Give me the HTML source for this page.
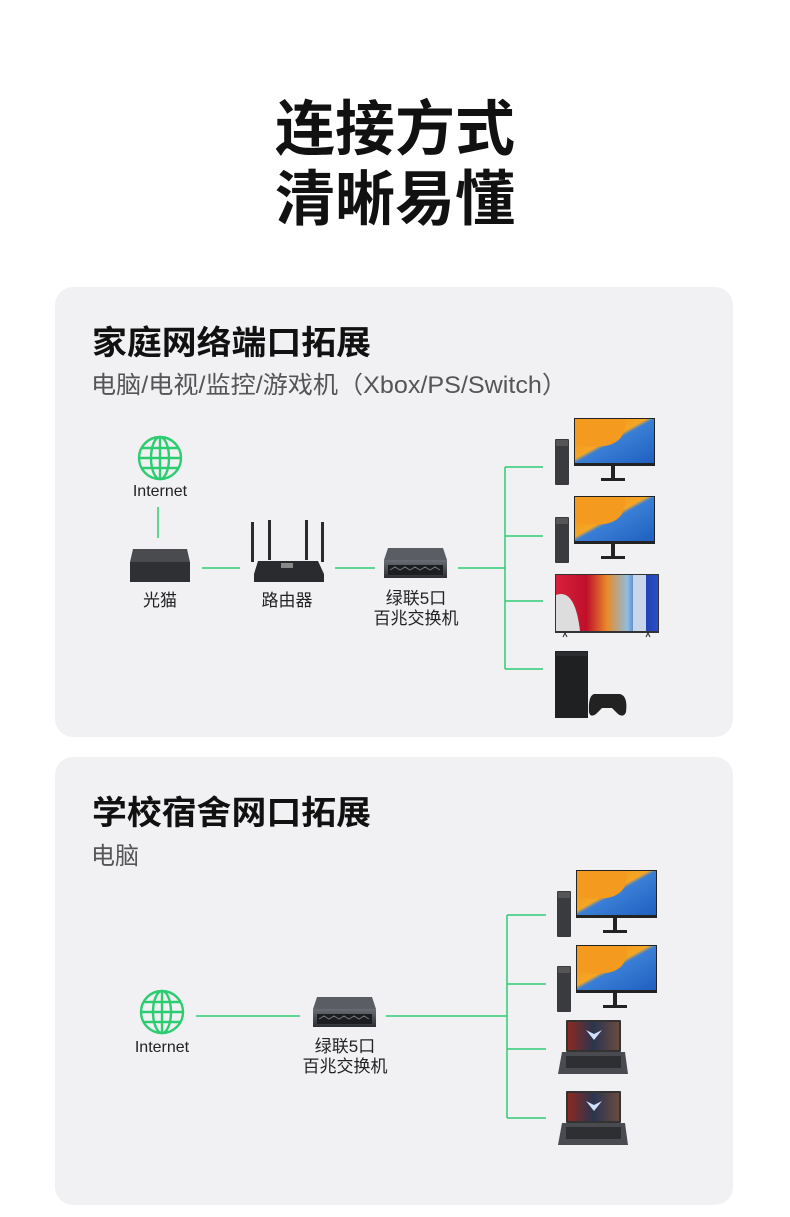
<!DOCTYPE html>
<html><head><meta charset="utf-8"><style>
html,body{margin:0;padding:0;background:#fff;}
svg{display:block;}
text{font-family:"Liberation Sans","Noto Sans CJK SC",sans-serif;}
</style></head><body>
<svg width="790" height="1217" viewBox="0 0 790 1217" xmlns="http://www.w3.org/2000/svg">
<defs>
<linearGradient id="scr" x1="0" y1="0" x2="1" y2="1">
<stop offset="0" stop-color="#f08a1a"/><stop offset="0.45" stop-color="#f5a623"/><stop offset="0.5" stop-color="#3a7fd6"/><stop offset="1" stop-color="#1f5fc0"/></linearGradient>
<linearGradient id="tv" x1="0" y1="0" x2="1" y2="0">
<stop offset="0" stop-color="#d8203a"/><stop offset="0.3" stop-color="#c0102a"/><stop offset="0.5" stop-color="#e88a2a"/><stop offset="0.7" stop-color="#8fbde0"/><stop offset="0.85" stop-color="#1d3fb0"/><stop offset="1" stop-color="#2a4fc8"/></linearGradient>
<linearGradient id="lap" x1="0" y1="0" x2="1" y2="0">
<stop offset="0" stop-color="#8a2a20"/><stop offset="0.5" stop-color="#2a3550"/><stop offset="1" stop-color="#6a4a40"/></linearGradient>
<linearGradient id="sw" x1="0" y1="0" x2="0" y2="1">
<stop offset="0" stop-color="#6a6d74"/><stop offset="1" stop-color="#2c2e33"/></linearGradient>
<g id="globe" fill="none" stroke="#2ecc71" stroke-width="2.4">
<circle cx="0" cy="0" r="21"/><ellipse cx="0" cy="0" rx="9" ry="21"/><line x1="0" y1="-21" x2="0" y2="21"/><line x1="-21" y1="0" x2="21" y2="0"/><path d="M-18 -10 H18 M-18 10 H18"/></g>
<g id="pc">
<rect x="0" y="21" width="14" height="46" rx="1" fill="#3a3b3e"/>
<rect x="1" y="22" width="12" height="6" fill="#555"/>
<rect x="19" y="0" width="81" height="48" fill="#222"/>
<rect x="20" y="1" width="79" height="44" fill="url(#scr)"/>
<path d="M20 1 H70 Q72 24 50 28 Q35 30 20 26Z" fill="#f39a1f"/>
<rect x="56" y="48" width="4" height="12" fill="#222"/>
<rect x="46" y="60" width="24" height="3" fill="#222"/>
</g>
<g id="laptop">
<rect x="8" y="0" width="55" height="32" rx="1" fill="#333"/>
<rect x="10" y="2" width="51" height="28" fill="url(#lap)"/>
<path d="M28 10 L36 20 L44 10 L36 14Z" fill="#cfe0ff"/>
<path d="M4 32 H67 L70 54 H0Z" fill="#4a4b50"/>
<rect x="8" y="36" width="55" height="12" fill="#2e2f33"/>
</g>
<g id="switch">
<path d="M4 0 H59 L63 12 H0Z" fill="#5a5d63"/>
<rect x="0" y="12" width="63" height="18" fill="url(#sw)"/>
<rect x="4" y="17" width="55" height="10" fill="#1c1d20"/>
<path d="M6 22 l5 -3 5 3 5 -3 5 3 5 -3 5 3 5 -3 5 3 5 -3 5 3" stroke="#777" fill="none" stroke-width="1"/>
</g>
</defs>

<text x="395" y="150" text-anchor="middle" font-size="60" font-weight="bold" fill="#111">连接方式</text>
<text x="395" y="220" text-anchor="middle" font-size="60" font-weight="bold" fill="#111">清晰易懂</text>

<!-- card 1 -->
<rect x="55" y="287" width="678" height="450" rx="18" fill="#f1f1f4"/>
<text x="92" y="354" font-size="33" font-weight="bold" fill="#111" textLength="279" lengthAdjust="spacingAndGlyphs">家庭网络端口拓展</text>
<text x="91" y="393" font-size="24" fill="#555" textLength="476" lengthAdjust="spacingAndGlyphs">电脑/电视/监控/游戏机（Xbox/PS/Switch）</text>

<use href="#globe" x="160" y="458"/>
<text x="160" y="496" text-anchor="middle" font-size="16" fill="#222">Internet</text>
<g stroke="#2ecc71" stroke-width="1.5" fill="none">
<line x1="158" y1="507" x2="158" y2="538"/>
<line x1="202" y1="568" x2="240" y2="568"/>
<line x1="335" y1="568" x2="375" y2="568"/>
<line x1="458" y1="568" x2="505" y2="568"/>
<line x1="505" y1="467" x2="505" y2="669"/>
<line x1="505" y1="467" x2="543" y2="467"/>
<line x1="505" y1="536" x2="543" y2="536"/>
<line x1="505" y1="601" x2="543" y2="601"/>
<line x1="505" y1="669" x2="543" y2="669"/>
</g>
<path d="M133 549 H187 L190 562 H130Z" fill="#4a4b4f"/>
<rect x="130" y="562" width="60" height="20" fill="#2f3034"/>
<text x="160" y="606" text-anchor="middle" font-size="17" fill="#222">光猫</text>
<g fill="#2a2b2e">
<rect x="251" y="522" width="3" height="40"/><rect x="268" y="520" width="3" height="40"/>
<rect x="305" y="520" width="3" height="40"/><rect x="321" y="522" width="3" height="40"/>
<path d="M258 561 H318 L324 574 V582 H254 V574Z"/>
</g>
<rect x="281" y="563" width="12" height="5" fill="#888"/>
<text x="287" y="606" text-anchor="middle" font-size="17" fill="#222">路由器</text>
<use href="#switch" x="384" y="548"/>
<text x="416" y="604" text-anchor="middle" font-size="17" fill="#222">绿联5口</text>
<text x="416" y="624" text-anchor="middle" font-size="17" fill="#222">百兆交换机</text>

<use href="#pc" x="555" y="418"/>
<use href="#pc" x="555" y="496"/>
<rect x="555" y="574" width="104" height="59" fill="#333"/>
<rect x="556" y="575" width="102" height="56" fill="url(#tv)"/>
<path d="M556 595 Q575 588 580 631 H556Z" fill="#ddd"/>
<path d="M633 575 H646 V631 H633Z" fill="#c7d6e8"/>
<path d="M563 637 l2 -4 2 4 M646 637 l2 -4 2 4" stroke="#222" fill="none"/>
<rect x="555" y="651" width="33" height="67" fill="#1f2022"/>
<rect x="556" y="652" width="31" height="4" fill="#2c2d30"/>
<path d="M594 694 H620 Q628 696 626 712 Q624 718 618 714 L612 708 H602 L596 714 Q590 718 589 712 Q588 696 594 694Z" fill="#222"/>

<!-- card 2 -->
<rect x="55" y="757" width="678" height="448" rx="18" fill="#f1f1f4"/>
<text x="92" y="824" font-size="33" font-weight="bold" fill="#111" textLength="279" lengthAdjust="spacingAndGlyphs">学校宿舍网口拓展</text>
<text x="91" y="864" font-size="24" fill="#555">电脑</text>
<use href="#globe" x="162" y="1012"/>
<text x="162" y="1052" text-anchor="middle" font-size="16" fill="#222">Internet</text>
<g stroke="#2ecc71" stroke-width="1.5" fill="none">
<line x1="196" y1="1016" x2="300" y2="1016"/>
<line x1="386" y1="1016" x2="507" y2="1016"/>
<line x1="507" y1="915" x2="507" y2="1118"/>
<line x1="507" y1="915" x2="546" y2="915"/>
<line x1="507" y1="984" x2="546" y2="984"/>
<line x1="507" y1="1049" x2="546" y2="1049"/>
<line x1="507" y1="1118" x2="546" y2="1118"/>
</g>
<use href="#switch" x="313" y="997"/>
<text x="345" y="1052" text-anchor="middle" font-size="17" fill="#222">绿联5口</text>
<text x="345" y="1072" text-anchor="middle" font-size="17" fill="#222">百兆交换机</text>
<use href="#pc" x="557" y="870"/>
<use href="#pc" x="557" y="945"/>
<use href="#laptop" x="558" y="1020"/>
<use href="#laptop" x="558" y="1091"/>
</svg>
</body></html>
